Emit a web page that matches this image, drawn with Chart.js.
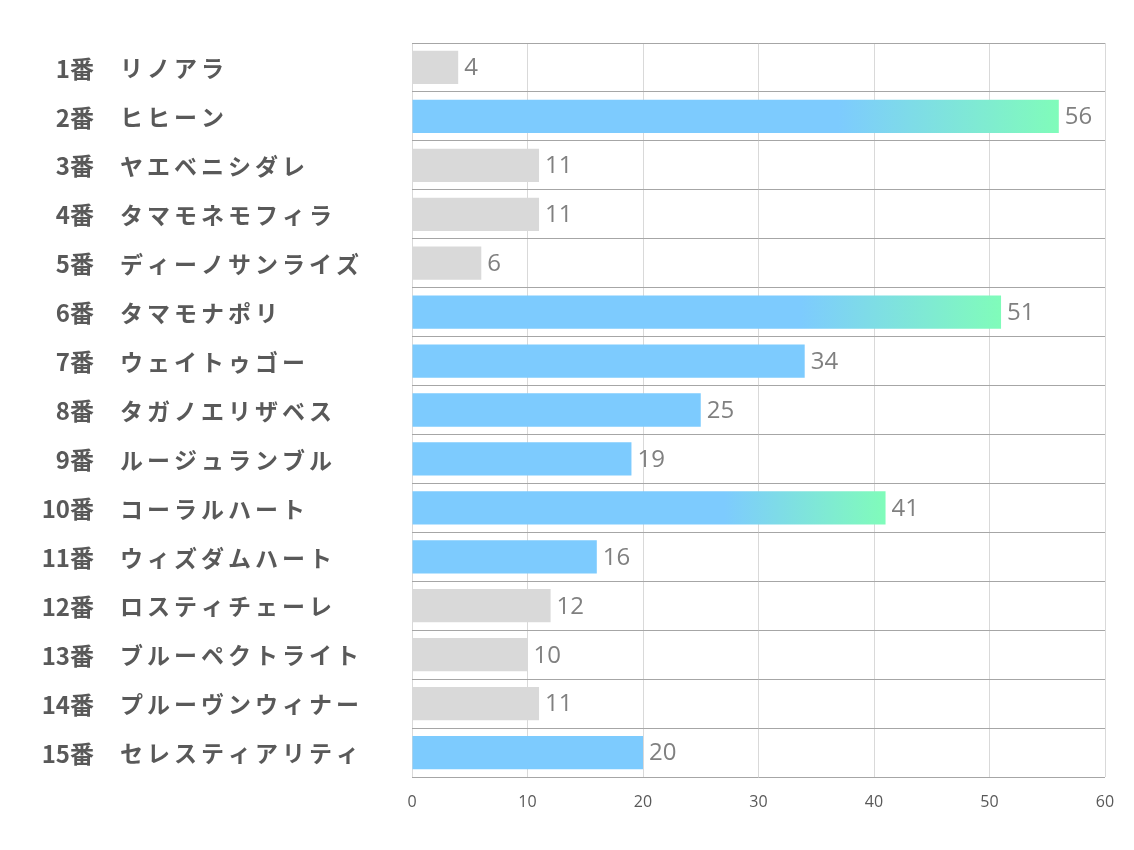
<!DOCTYPE html>
<html>
<head>
<meta charset="utf-8">
<script src="https://cdn.jsdelivr.net/npm/chart.js@4/dist/chart.umd.min.js"></script>
<style>
    body { margin: 0; background: #fff; }
</style>
</head>
<body>
<canvas id="chart" width="1134" height="850"></canvas>
<script>
"use strict";

const horseNumbers = ["1番", "2番", "3番", "4番", "5番", "6番", "7番", "8番", "9番", "10番", "11番", "12番", "13番", "14番", "15番"];
const horseNames = [
    "リノアラ", "ヒヒーン", "ヤエベニシダレ", "タマモネモフィラ", "ディーノサンライズ",
    "タマモナポリ", "ウェイトゥゴー", "タガノエリザベス", "ルージュランブル", "コーラルハート",
    "ウィズダムハート", "ロスティチェーレ", "ブルーペクトライト", "プルーヴンウィナー", "セレスティアリティ",
];
const scores = [4, 56, 11, 11, 6, 51, 34, 25, 19, 41, 16, 12, 10, 11, 20];
// 0 = unmarked, 1 = marked, 2 = top mark
const marks = [0, 2, 0, 0, 0, 2, 1, 1, 1, 2, 1, 0, 0, 0, 1];
const xTicks = [0, 10, 20, 30, 40, 50, 60];

const GRAY = "#d9d9d9";
const BLUE = "rgb(125, 203, 254)";
const GREEN = "rgb(128, 252, 186)";

function barColor(context) {
    const i = context.dataIndex;
    if (marks[i] === 0) return GRAY;
    if (marks[i] === 1) return BLUE;
    const chart = context.chart;
    if (!chart.chartArea || !chart.scales.x) return BLUE;
    const x0 = chart.scales.x.getPixelForValue(0);
    const x1 = chart.scales.x.getPixelForValue(scores[i]);
    const g = chart.ctx.createLinearGradient(x0, 0, x1, 0);
    g.addColorStop(0, BLUE);
    g.addColorStop(0.66, BLUE);
    g.addColorStop(1, GREEN);
    return g;
}

// numbers next to each bar
const valueLabels = {
    id: "valueLabels",
    afterDatasetsDraw(chart) {
        const ctx = chart.ctx;
        const meta = chart.getDatasetMeta(0);
        ctx.save();
        ctx.font = "24px 'Open Sans'";
        ctx.fillStyle = "#808080";
        ctx.textBaseline = "middle";
        meta.data.forEach((bar, i) => {
            ctx.fillText(String(scores[i]), bar.x + 6, bar.y + 1);
        });
        ctx.restore();
    },
};

// "N番" right aligned, horse name left aligned
const horseLabels = {
    id: "horseLabels",
    afterDraw(chart) {
        const ctx = chart.ctx;
        const y = chart.scales.y;
        ctx.save();
        ctx.fillStyle = "#595959";
        ctx.textBaseline = "middle";
        horseNames.forEach((name, i) => {
            const py = y.getPixelForValue(i) + 1;
            ctx.font = "bold 24px 'Noto Sans CJK JP'";
            ctx.textAlign = "right";
            ctx.letterSpacing = "0px";
            ctx.fillText(horseNumbers[i], 94, py);
            ctx.font = "bold 23px 'Noto Sans CJK JP'";
            ctx.textAlign = "left";
            ctx.letterSpacing = "4px";
            ctx.fillText(name, 120, py);
        });
        ctx.restore();
    },
};

function draw() {
    new Chart(document.getElementById("chart"), {
        type: "bar",
        data: {
            labels: horseNames,
            datasets: [
                {
                    data: scores,
                    backgroundColor: barColor,
                    borderWidth: 0,
                    categoryPercentage: 1,
                    barPercentage: 0.68,
                },
            ],
        },
        options: {
            indexAxis: "y",
            responsive: false,
            animation: false,
            layout: { padding: { top: 43, right: 29, left: 0, bottom: 0 } },
            plugins: {
                legend: { display: false },
                tooltip: { enabled: false },
            },
            scales: {
                x: {
                    min: xTicks[0],
                    max: xTicks[xTicks.length - 1],
                    afterBuildTicks: (scale) => {
                        scale.ticks = xTicks.map((v) => ({ value: v }));
                    },
                    afterFit: (scale) => { scale.height = 73; },
                    ticks: {
                        color: "#595959",
                        font: { family: "'Open Sans'", size: 16 },
                        padding: 16,
                    },
                    grid: { color: "#d9d9d9", drawTicks: false },
                    border: { display: false },
                },
                y: {
                    afterFit: (scale) => { scale.width = 412; },
                    ticks: { display: false },
                    grid: { color: "#a6a6a6", drawTicks: false, offset: true },
                    border: { display: false },
                },
            },
        },
        plugins: [valueLabels, horseLabels],
    });
}

document.fonts.load("bold 23px 'Noto Sans CJK JP'").then(draw, draw);
</script>
</body>
</html>
